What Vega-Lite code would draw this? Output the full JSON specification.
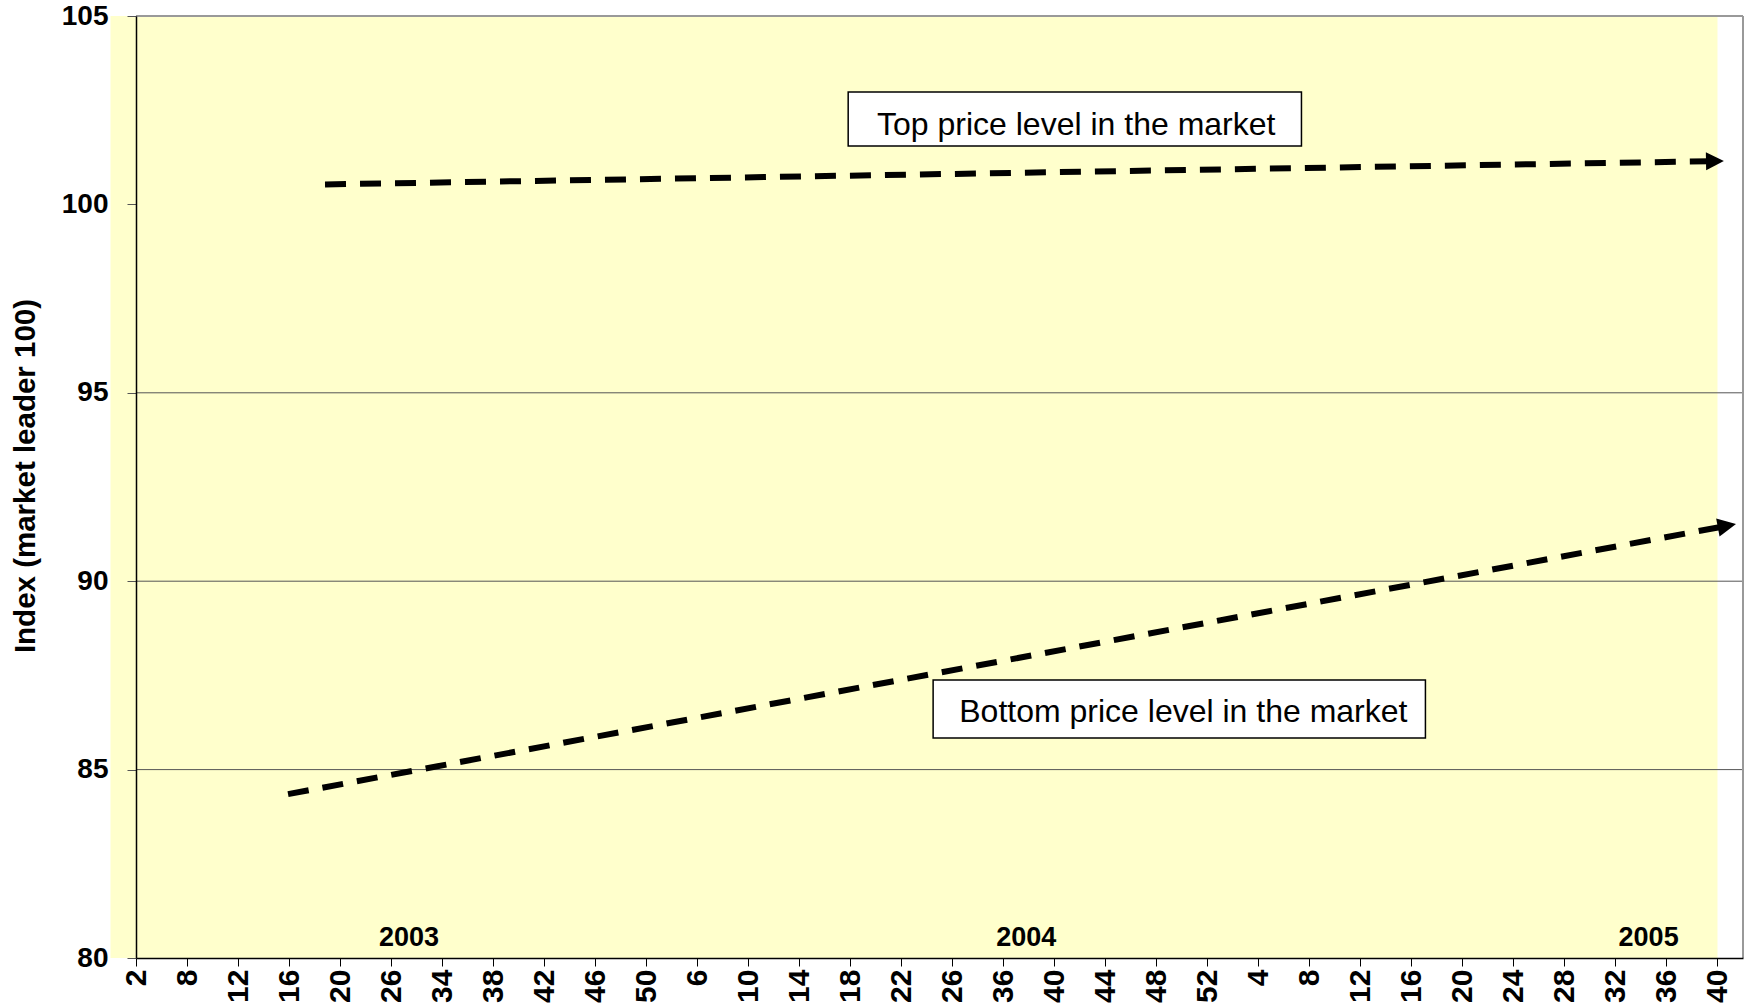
{
  "$schema": "https://vega.github.io/schema/vega-lite/v6.json",
  "width": 1607,
  "height": 942,
  "autosize": {"type": "none"},
  "padding": {"left": 136, "top": 16, "right": 2, "bottom": 50},
  "background": "white",
  "config": {
    "view": {"stroke": null},
    "font": "Liberation Sans"
  },
  "datasets": {
    "one": [{}],
    "lines": [
      {"series": "Top price level", "x": 7.41, "y": 100.53, "end": false},
      {"series": "Top price level", "x": 61.9, "y": 101.148, "end": true},
      {"series": "Bottom price level", "x": 5.96, "y": 84.35, "end": false},
      {"series": "Bottom price level", "x": 62.37, "y": 91.47, "end": true}
    ],
    "grid": [{"y": 85}, {"y": 90}, {"y": 95}],
    "boxes": [
      {"label": "Top price level in the market", "x": 27.92, "x2": 45.69, "y": 101.55, "y2": 102.98, "tx": 36.86, "ty": 101.85},
      {"label": "Bottom price level in the market", "x": 31.25, "x2": 50.55, "y": 85.84, "y2": 87.38, "tx": 41.06, "ty": 86.26}
    ],
    "years": [
      {"year": "2003", "x": 10.7, "y": 80.32},
      {"year": "2004", "x": 34.9, "y": 80.32},
      {"year": "2005", "x": 59.3, "y": 80.32}
    ]
  },
  "layer": [
    {
      "data": {"name": "one"},
      "mark": {"type": "rect", "fill": "#FFFFCC"},
      "encoding": {
        "x": {
          "datum": -1, "type": "quantitative",
          "scale": {"domain": [0, 63], "nice": false, "zero": false},
          "axis": {
            "values": [0,1,2,3,4,5,6,7,8,9,10,11,12,13,14,15,16,17,18,19,20,21,22,23,24,25,26,27,28,29,30,31,32,33,34,35,36,37,38,39,40,41,42,43,44,45,46,47,48,49,50,51,52,53,54,55,56,57,58,59,60,61,62,63],
            "labelExpr": "datum.value % 2 == 0 ? ['2','8','12','16','20','26','34','38','42','46','50','6','10','14','18','22','26','36','40','44','48','52','4','8','12','16','20','24','28','32','36','40'][datum.value / 2] : ''",
            "labelAngle": -90,
            "labelFont": "Liberation Sans",
            "labelFontSize": 30,
            "labelFontWeight": "bold",
            "labelColor": "black",
            "labelOverlap": false,
            "labelFlush": false,
            "labelPadding": 3,
            "tickSize": 8,
            "tickColor": "black",
            "domainColor": "black",
            "domainWidth": 1.5,
            "grid": false,
            "title": null,
            "zindex": 1
          }
        },
        "x2": {"datum": 62},
        "y": {
          "datum": 80, "type": "quantitative",
          "scale": {"domain": [80, 105], "nice": false, "zero": false},
          "axis": {
            "values": [80, 85, 90, 95, 100, 105],
            "labelFont": "Liberation Sans",
            "labelFontSize": 28,
            "labelFontWeight": "bold",
            "labelColor": "black",
            "labelPadding": 19,
            "tickSize": 9,
            "tickColor": "#555555",
            "domainColor": "black",
            "domainWidth": 1.5,
            "grid": false,
            "title": "Index (market leader 100)",
            "titleFont": "Liberation Sans",
            "titleFontSize": 29.5,
            "titleFontWeight": "bold",
            "titleColor": "black",
            "titleAngle": -90,
            "titleX": -111,
            "titleY": 459.5,
            "titleBaseline": "middle",
            "titleAlign": "center",
            "zindex": 1
          }
        },
        "y2": {"datum": 105}
      }
    },
    {
      "data": {"name": "grid"},
      "mark": {"type": "rule", "color": "#555555", "strokeWidth": 1},
      "encoding": {
        "y": {"field": "y", "type": "quantitative"},
        "x": {"datum": 0},
        "x2": {"datum": 63}
      }
    },
    {
      "data": {"name": "one"},
      "mark": {"type": "rule", "color": "#999999", "strokeWidth": 2},
      "encoding": {
        "y": {"datum": 105},
        "x": {"datum": 0},
        "x2": {"datum": 63}
      }
    },
    {
      "data": {"name": "one"},
      "mark": {"type": "rule", "color": "#999999", "strokeWidth": 2},
      "encoding": {
        "x": {"datum": 63},
        "y": {"datum": 80},
        "y2": {"datum": 105}
      }
    },
    {
      "data": {"name": "lines"},
      "mark": {"type": "line", "color": "black", "strokeWidth": 6, "strokeDash": [21, 14], "strokeCap": "butt"},
      "encoding": {
        "x": {"field": "x", "type": "quantitative"},
        "y": {"field": "y", "type": "quantitative"},
        "detail": {"field": "series"}
      }
    },
    {
      "data": {"name": "lines"},
      "transform": [{"filter": "datum.end && datum.series == 'Top price level'"}],
      "mark": {"type": "point", "shape": "M-1,-1L1,0L-1,1Z", "filled": true, "color": "black", "opacity": 1, "strokeWidth": 0, "size": 320, "angle": -0.97},
      "encoding": {
        "x": {"field": "x", "type": "quantitative"},
        "y": {"field": "y", "type": "quantitative"}
      }
    },
    {
      "data": {"name": "lines"},
      "transform": [{"filter": "datum.end && datum.series == 'Bottom price level'"}],
      "mark": {"type": "point", "shape": "M-1,-1L1,0L-1,1Z", "filled": true, "color": "black", "opacity": 1, "strokeWidth": 0, "size": 340, "angle": -10.58},
      "encoding": {
        "x": {"field": "x", "type": "quantitative"},
        "y": {"field": "y", "type": "quantitative"}
      }
    },
    {
      "data": {"name": "boxes"},
      "mark": {"type": "rect", "fill": "white", "stroke": "black", "strokeWidth": 1.5},
      "encoding": {
        "x": {"field": "x", "type": "quantitative"},
        "x2": {"field": "x2"},
        "y": {"field": "y", "type": "quantitative"},
        "y2": {"field": "y2"}
      }
    },
    {
      "data": {"name": "boxes"},
      "mark": {"type": "text", "font": "Liberation Sans", "fontSize": 32, "color": "black", "align": "center", "baseline": "alphabetic"},
      "encoding": {
        "x": {"field": "tx", "type": "quantitative"},
        "y": {"field": "ty", "type": "quantitative"},
        "text": {"field": "label"}
      }
    },
    {
      "data": {"name": "years"},
      "mark": {"type": "text", "font": "Liberation Sans", "fontSize": 27, "fontWeight": "bold", "color": "black", "align": "center", "baseline": "alphabetic"},
      "encoding": {
        "x": {"field": "x", "type": "quantitative"},
        "y": {"field": "y", "type": "quantitative"},
        "text": {"field": "year"}
      }
    }
  ]
}
